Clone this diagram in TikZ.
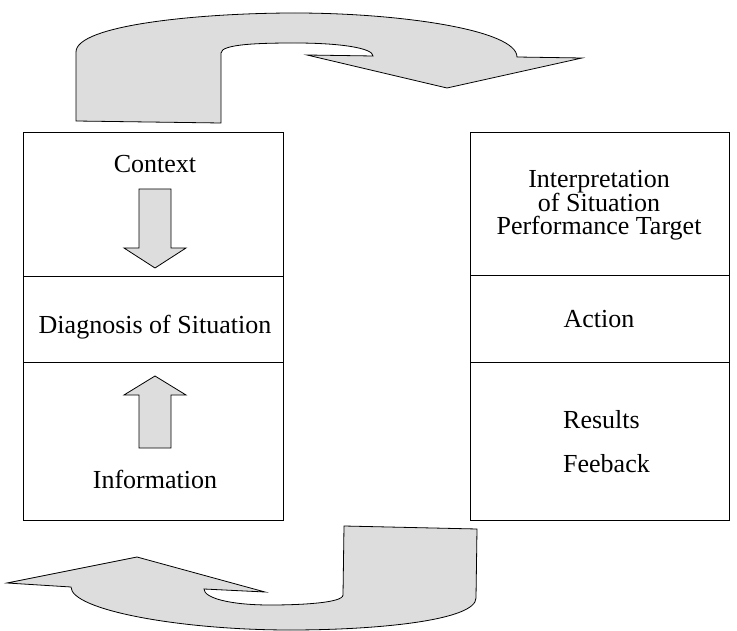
\documentclass[tikz,border=0pt]{standalone}
\usepackage{fontspec}
\setmainfont{Liberation Serif}
\begin{document}
\definecolor{arrowfill}{RGB}{221,221,221}
\begin{tikzpicture}[x=1pt,y=-1pt,
  cell/.style={draw=black,line width=0.9pt,rectangle,inner sep=0pt,anchor=north west},
  lbl/.style={font=\fontsize{26}{23}\selectfont,inner sep=0pt,align=center},
  bigarrow/.style={draw=black,line width=0.8pt,fill=arrowfill,line join=miter},
  smallarrow/.style={draw=black,line width=0.8pt,fill=arrowfill}]
\useasboundingbox (0,0) rectangle (737,631);

% left column: context / diagnosis / information
\node[cell,minimum width=260pt,minimum height=144pt] (ctx) at (23,132) {};
\node[cell,minimum width=260pt,minimum height=86pt] (diag) at (23,276) {};
\node[cell,minimum width=260pt,minimum height=158pt] (info) at (23,362) {};

% right column: interpretation / action / results
\node[cell,minimum width=259pt,minimum height=143pt] (interp) at (470,132) {};
\node[cell,minimum width=259pt,minimum height=87pt] (act) at (470,275) {};
\node[cell,minimum width=259pt,minimum height=158pt] (res) at (470,362) {};

% texts
\node[lbl,anchor=base] (tctx) at (155,173) {Context};
\node[lbl,anchor=base] (tdiag) at (155,334) {Diagnosis of Situation};
\node[lbl,anchor=base] (tinfo) at (155,488) {Information};
\node[lbl,anchor=base] (t1) at (599,188) {Interpretation};
\node[lbl,anchor=base] (t2) at (599,211.5) {of Situation};
\node[lbl,anchor=base] (t3) at (599,235) {Performance Target};
\node[lbl,anchor=base] (tact) at (599,328) {Action};
\node[lbl,anchor=base west] (tres) at (563,428) {Results};
\node[lbl,anchor=base west] (tfb) at (563,472) {Feeback};

% block arrows inside the left column
\draw[smallarrow] (139,189) -- (171,189) -- (171,248) -- (186,248) -- (155,268)
  -- (124,248) -- (139,248) -- cycle;
\draw[smallarrow] (155,376) -- (186,395) -- (171,395) -- (171,448) -- (139,448)
  -- (139,395) -- (124,395) -- cycle;

% curved arrow over the top, left to right
\draw[bigarrow] (76,121) -- (76,52) .. controls (76,25) and (200,13) .. (295,13)
  .. controls (400,13) and (517,30) .. (517,57) -- (582,58) -- (447,88)
  -- (307,55) -- (373,56) .. controls (373,48) and (340,43) .. (295,43)
  .. controls (260,43) and (221,44) .. (221,53) -- (221,123) -- cycle;

% curved arrow underneath, right to left
\draw[bigarrow] (344,526) -- (477,529) -- (476,598) .. controls (476,620) and (380,630) .. (290,630)
  .. controls (180,630) and (71,610) .. (71,587) -- (7,583) -- (137,557)
  -- (265,592) -- (204,589) .. controls (204,598) and (230,605) .. (270,605)
  .. controls (300,605) and (343,603) .. (343,595) -- cycle;
\end{tikzpicture}
\end{document}
